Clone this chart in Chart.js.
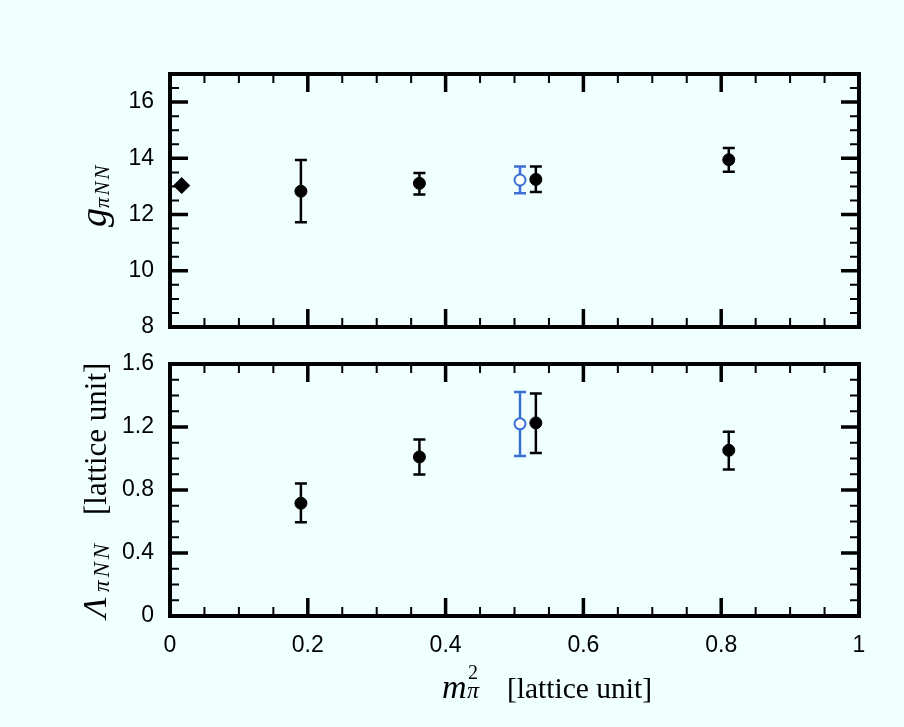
<!DOCTYPE html>
<html>
<head>
<meta charset="utf-8">
<script src="https://cdn.jsdelivr.net/npm/chart.js@4.4.1/dist/chart.umd.min.js"></script>
<style>
  html, body { margin: 0; background: #f0ffff; }
  #wrap { position: relative; width: 904px; height: 727px; background: #f0ffff; }
  canvas { position: absolute; left: 0; top: 0; }
</style>
</head>
<body>
<div id="wrap">
  <canvas id="topChart" width="904" height="727"></canvas>
  <canvas id="botChart" width="904" height="727"></canvas>
</div>
<script>
// m_pi^2 of the lattice points
const mpi2 = [0.19, 0.362, 0.531, 0.811];
// g_piNN with error range
const gVal = [12.83, 13.11, 13.25, 13.95];
const gLo  = [11.73, 12.71, 12.80, 13.52];
const gHi  = [13.94, 13.48, 13.71, 14.37];
// Lambda_piNN with error range
const lamVal = [0.716, 1.010, 1.226, 1.052];
const lamLo  = [0.596, 0.899, 1.035, 0.930];
const lamHi  = [0.842, 1.121, 1.413, 1.170];
// open blue point
const blueX = [0.508];
const blueG = [13.23], blueGLo = [12.76], blueGHi = [13.71];
const blueLam = [1.22], blueLamLo = [1.016], blueLamHi = [1.422];
// experimental value (diamond)
const expX = [0.017];
const expG = [13.03];

// ticks
const xTicks = [0, 0.2, 0.4, 0.6, 0.8, 1];
const xTickLabels = ['0', '0.2', '0.4', '0.6', '0.8', '1'];
const gTicks = [8, 10, 12, 14, 16];
const lamTicks = [0, 0.4, 0.8, 1.2, 1.6];

const BLUE = '#3b6fd4';
const tickFont = { family: '"Liberation Sans", Arial, sans-serif', size: 23 };
const SERIF = '"Liberation Serif", "Times New Roman", serif';

function pts(xs, ys) { return xs.map((x, i) => ({ x, y: ys[i] })); }

// error bars, drawn under the markers
const errorBars = {
  id: 'errorBars',
  beforeDatasetsDraw(chart) {
    const { ctx, scales: { x, y } } = chart;
    ctx.save();
    chart.data.datasets.forEach(ds => {
      if (!ds.lo) return;
      ctx.strokeStyle = ds.borderColor;
      ctx.lineWidth = 2.5;
      ds.data.forEach((p, i) => {
        const px = x.getPixelForValue(p.x);
        const y1 = y.getPixelForValue(ds.lo[i]);
        const y2 = y.getPixelForValue(ds.hi[i]);
        ctx.beginPath();
        ctx.moveTo(px, y1); ctx.lineTo(px, y2);
        ctx.moveTo(px - 6, y1); ctx.lineTo(px + 6, y1);
        ctx.moveTo(px - 6, y2); ctx.lineTo(px + 6, y2);
        ctx.stroke();
      });
    });
    ctx.restore();
  }
};

// frame with inward ticks on every side
const frame = {
  id: 'frame',
  afterDraw(chart, args, opts) {
    const { ctx, chartArea: a, scales: { x, y } } = chart;
    ctx.save();
    ctx.strokeStyle = '#000';
    const tick = (major, minorStep, scale, horizontal) => {
      const n = Math.round((scale.max - scale.min) / minorStep);
      for (let k = 0; k <= n; k++) {
        const v = scale.min + k * minorStep;
        const isMajor = major.some(m => Math.abs(m - v) < 1e-9);
        const len = isMajor ? 18 : 9;
        ctx.lineWidth = isMajor ? 3.5 : 2;
        const p = scale.getPixelForValue(v);
        ctx.beginPath();
        if (horizontal) {
          ctx.moveTo(p, a.bottom); ctx.lineTo(p, a.bottom - len);
          ctx.moveTo(p, a.top); ctx.lineTo(p, a.top + len);
        } else {
          ctx.moveTo(a.left, p); ctx.lineTo(a.left + len, p);
          ctx.moveTo(a.right, p); ctx.lineTo(a.right - len, p);
        }
        ctx.stroke();
      }
    };
    tick(xTicks, 0.05, x, true);
    tick(opts.yMajor, opts.yMinor, y, false);
    ctx.lineWidth = 4;
    ctx.strokeRect(a.left, a.top, a.right - a.left, a.bottom - a.top);
    ctx.restore();
  }
};

// text made of runs (math italic + subscripts), optionally rotated
function drawRuns(ctx, runs, x0, y0, rotate) {
  ctx.save();
  ctx.translate(x0, y0);
  if (rotate) ctx.rotate(-Math.PI / 2);
  ctx.fillStyle = '#000';
  ctx.textBaseline = 'alphabetic';
  ctx.textAlign = 'left';
  let cx = 0;
  runs.forEach(r => {
    ctx.font = r.font;
    if (r.at !== undefined) cx = r.at;
    const chars = r.spacing ? r.t.split('') : [r.t];
    chars.forEach(c => {
      ctx.fillText(c, cx, r.dy || 0);
      cx += ctx.measureText(c).width + (r.spacing || 0);
    });
  });
  ctx.restore();
}

const labels = {
  id: 'labels',
  afterDraw(chart, args, opts) {
    const ctx = chart.ctx;
    if (opts.which === 'top') {
      drawRuns(ctx, [
        { t: 'g', font: 'italic 38px ' + SERIF },
        { t: 'πNN', font: 'italic 21px ' + SERIF, dy: 3, spacing: 2 }
      ], 106, 227, true);
    } else {
      drawRuns(ctx, [
        { t: 'Λ', font: 'italic 34px ' + SERIF },
        { t: 'πNN', font: 'italic 23px ' + SERIF, dy: 3, spacing: 3, at: 26 },
        { t: '[lattice unit]', font: '31px ' + SERIF, at: 103 }
      ], 106, 618, true);
      // x axis title
      ctx.save();
      ctx.fillStyle = '#000';
      ctx.font = 'italic 34px ' + SERIF;
      ctx.fillText('m', 442, 698);
      ctx.font = 'italic 24px ' + SERIF;
      ctx.fillText('π', 467, 698);
      ctx.font = '20px ' + SERIF;
      ctx.fillText('2', 468, 679);
      ctx.font = '29.5px ' + SERIF;
      ctx.fillText('[lattice unit]', 507, 698);
      ctx.restore();
    }
  }
};

function makeChart(id, cfg) {
  return new Chart(document.getElementById(id), {
    type: 'scatter',
    data: { datasets: cfg.datasets },
    options: {
      responsive: false,
      animation: false,
      devicePixelRatio: 1,
      layout: { padding: cfg.padding },
      plugins: {
        legend: { display: false },
        tooltip: { enabled: false },
        frame: { yMajor: cfg.yTicks, yMinor: cfg.yMinor },
        labels: { which: cfg.which }
      },
      scales: {
        x: {
          type: 'linear', min: 0, max: 1,
          grid: { display: false, drawTicks: false },
          border: { display: false },
          afterBuildTicks: s => { s.ticks = xTicks.map(v => ({ value: v })); },
          ticks: {
            display: cfg.showX, font: tickFont, color: '#000', padding: 16,
            maxRotation: 0, autoSkip: false,
            callback: (v, i) => xTickLabels[i]
          },
          afterFit: s => { s.height = cfg.xHeight; }
        },
        y: {
          type: 'linear', min: cfg.yMin, max: cfg.yMax,
          grid: { display: false, drawTicks: false },
          border: { display: false },
          afterBuildTicks: s => { s.ticks = cfg.yTicks.map(v => ({ value: v })); },
          ticks: { font: tickFont, color: '#000', padding: 16 },
          afterFit: s => { s.width = 170; }
        }
      }
    },
    plugins: [errorBars, frame, labels]
  });
}

function sets(vals, lo, hi, bVal, bLo, bHi, withExp) {
  const out = [
    { data: pts(mpi2, vals), lo, hi, borderColor: '#000', backgroundColor: '#000',
      pointStyle: 'circle', pointRadius: 6, pointBorderWidth: 1 },
    { data: pts(blueX, bVal), lo: bLo, hi: bHi, borderColor: BLUE, backgroundColor: '#ffffff',
      pointStyle: 'circle', pointRadius: 5.5, pointBorderWidth: 2 }
  ];
  if (withExp) {
    out.push({ data: pts(expX, expG), borderColor: '#000', backgroundColor: '#000',
      pointStyle: 'rectRot', pointRadius: 8, pointBorderWidth: 1 });
  }
  return out;
}

makeChart('topChart', {
  which: 'top',
  padding: { left: 0, top: 74, right: 45, bottom: 400 },
  yMin: 8, yMax: 17, yTicks: gTicks, yMinor: 0.5, showX: false, xHeight: 0,
  datasets: sets(gVal, gLo, gHi, blueG, blueGLo, blueGHi, true)
});

makeChart('botChart', {
  which: 'bot',
  padding: { left: 0, top: 364, right: 45, bottom: 51 },
  yMin: 0, yMax: 1.6, yTicks: lamTicks, yMinor: 0.1, showX: true, xHeight: 60,
  datasets: sets(lamVal, lamLo, lamHi, blueLam, blueLamLo, blueLamHi, false)
});
</script>
</body>
</html>
